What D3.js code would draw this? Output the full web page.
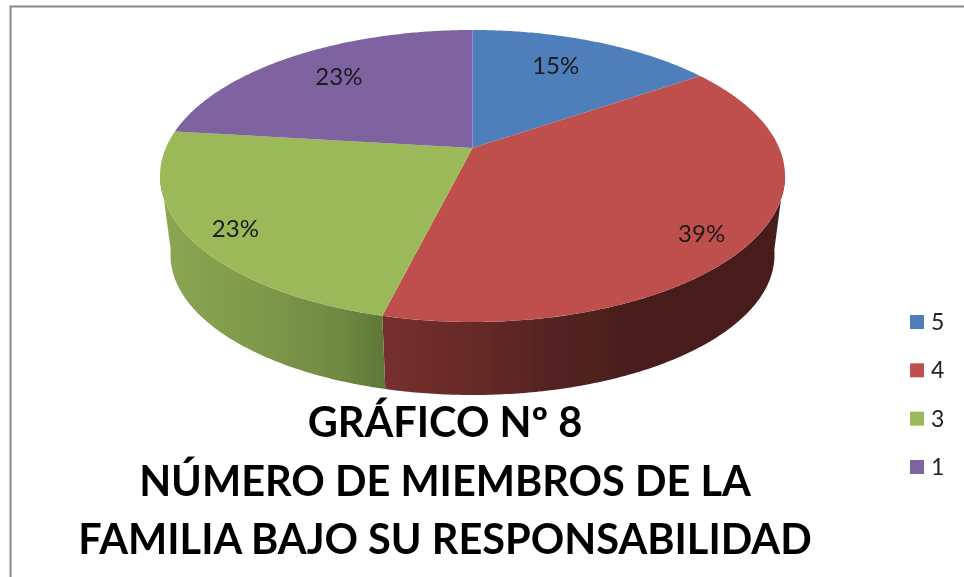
<!DOCTYPE html>
<html><head><meta charset="utf-8">
<script src="https://cdn.jsdelivr.net/npm/d3@7"></script>
<style>html,body{margin:0;padding:0;background:#fff}svg{display:block}</style>
</head><body><div id="c"></div>
<script>
const categories = ["5", "4", "3", "1"];
const counts = [2, 5, 3, 3];
const percentLabels = ["15%", "39%", "23%", "23%"];
const colors = ["#4f7fba", "#bf504d", "#9bb959", "#7f63a0"];
const titleLines = ["GRÁFICO Nº 8", "NÚMERO DE MIEMBROS DE LA", "FAMILIA BAJO SU RESPONSABILIDAD"];

const W = 964, H = 577;
const svg = d3.select("#c").append("svg").attr("width", W).attr("height", H);
svg.append("rect").attr("width", W).attr("height", H).attr("fill", "#fff");
const defs = svg.append("defs");
defs.append("filter").attr("id", "soft").append("feGaussianBlur").attr("stdDeviation", 0.45);
const root = svg.append("g").attr("filter", "url(#soft)");

// frame: only the top and left edges are visible
root.append("path").attr("d", `M10.5 ${H + 5}V6.5H${W + 5}`).attr("fill", "none")
  .attr("stroke", "#888").attr("stroke-width", 2);

// perspective disc geometry
const cx = 472.5, topEll = {cy: 176, rx: 312.5, ry: 146}, botEll = {cy: 255, rx: 302, ry: 140};
const apexY = 148;
const persp = -56 / 292, a = 118 + 30 * persp;
const R = topEll.rx * Math.sqrt(1 - persp * persp);
function topPoint(theta, f = 1) {
  const x = Math.sin(theta) * f, y = -Math.cos(theta) * f, d = 1 + persp * y;
  return [cx + R * x / d, (a * y + apexY) / d];
}
function botPoint(theta) {
  const [x, y] = topPoint(theta);
  return [cx + (x - cx) * botEll.rx / topEll.rx, botEll.cy + (y - topEll.cy) * botEll.ry / topEll.ry];
}
const pie = d3.pie().sort(null).startAngle(0).endAngle(2 * Math.PI)(counts);
const line = d3.line();
const step = 0.01;
const samples = (s, e) => d3.range(s, e, step).concat([e]);

// side walls (only the front half of the drum shows)
const wallStart = 99 * Math.PI / 180, wallEnd = 261 * Math.PI / 180;
const wallStops = {
  1: [[0, "#772f2e"], [0.4, "#642927"], [0.7, "#522220"], [1, "#4a1e1d"]],
  2: [[0, "#8aa652"], [0.43, "#7e994a"], [0.8, "#6f8a42"], [1, "#5f7737"]]
};
const wallRange = {1: [384, 640], 2: [165, 385]};
const grad = i => {
  const id = "wall" + i;
  const g = defs.append("linearGradient").attr("id", id).attr("gradientUnits", "userSpaceOnUse")
    .attr("x1", wallRange[i][0]).attr("x2", wallRange[i][1]).attr("y1", 0).attr("y2", 0);
  wallStops[i].forEach(s => g.append("stop").attr("offset", s[0]).attr("stop-color", s[1]));
  return `url(#${id})`;
};
pie.forEach((d, i) => {
  const s = Math.max(d.startAngle, wallStart), e = Math.min(d.endAngle, wallEnd);
  if (s >= e) return;
  const t = samples(s, e);
  const pts = t.map(v => topPoint(v)).concat(t.slice().reverse().map(v => botPoint(v)));
  root.append("path").attr("d", line(pts) + "Z").attr("fill", grad(i));
});

// top face
pie.forEach((d, i) => {
  const pts = [[cx, apexY]].concat(samples(d.startAngle, d.endAngle).map(v => topPoint(v)));
  root.append("path").attr("d", line(pts) + "Z").attr("fill", colors[i]);
});

// percent labels
const labelFont = "Lato, 'Open Sans', sans-serif";
const labelNudge = [[-15, 5], [14, 19], [-22, 14], [9, 4]];
pie.forEach((d, i) => {
  const [x, y] = topPoint((d.startAngle + d.endAngle) / 2, 0.78);
  root.append("text").attr("x", x + labelNudge[i][0]).attr("y", y + labelNudge[i][1] + 7)
    .attr("text-anchor", "middle").attr("font-family", labelFont).attr("font-size", 24)
    .attr("fill", "#1a1a1a").text(percentLabels[i]);
});

// legend
const legendY = d3.scalePoint().domain(categories).range([322, 467]);
categories.forEach((cat, i) => {
  root.append("rect").attr("x", 910).attr("y", legendY(cat) - 7).attr("width", 14).attr("height", 14).attr("fill", colors[i]);
  root.append("text").attr("x", 931).attr("y", legendY(cat) + 8).attr("font-family", labelFont)
    .attr("font-size", 23).attr("fill", "#222").text(cat);
});

// title
const titleY = d3.scalePoint().domain(titleLines).range([437, 554]);
titleLines.forEach(t => {
  root.append("text").attr("x", 445).attr("y", titleY(t)).attr("text-anchor", "middle")
    .attr("font-family", labelFont).attr("font-weight", 700).attr("font-size", 41.5)
    .attr("fill", "#000").text(t);
});
</script></body></html>
